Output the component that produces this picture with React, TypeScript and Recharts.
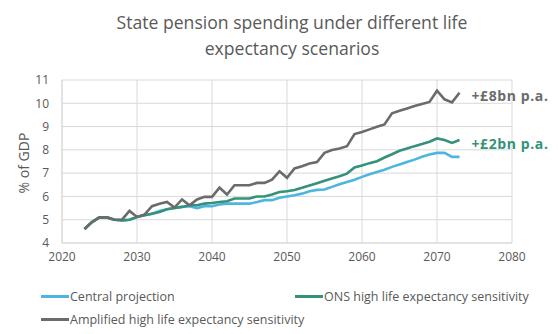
import React from 'react';
import { LineChart, Line, XAxis, YAxis, CartesianGrid } from 'recharts';

const years = [
  2023, 2024, 2025, 2026, 2027, 2028, 2029, 2030, 2031, 2032,
  2033, 2034, 2035, 2036, 2037, 2038, 2039, 2040, 2041, 2042,
  2043, 2044, 2045, 2046, 2047, 2048, 2049, 2050, 2051, 2052,
  2053, 2054, 2055, 2056, 2057, 2058, 2059, 2060, 2061, 2062,
  2063, 2064, 2065, 2066, 2067, 2068, 2069, 2070, 2071, 2072, 2073,
];

const central = [
  4.6, 4.9, 5.1, 5.1, 5.0, 4.97, 5.0, 5.12, 5.19, 5.26,
  5.37, 5.45, 5.5, 5.55, 5.58, 5.5, 5.58, 5.58, 5.65, 5.69,
  5.69, 5.69, 5.69, 5.76, 5.84, 5.84, 5.94, 6.0, 6.05, 6.12,
  6.22, 6.28, 6.3, 6.41, 6.52, 6.62, 6.72, 6.84, 6.95, 7.05,
  7.15, 7.27, 7.37, 7.48, 7.58, 7.7, 7.8, 7.87, 7.87, 7.7, 7.7,
];

const ons = [
  4.6, 4.9, 5.1, 5.1, 5.0, 4.97, 5.0, 5.12, 5.19, 5.26,
  5.33, 5.45, 5.5, 5.55, 5.62, 5.62, 5.69, 5.72, 5.76, 5.79,
  5.91, 5.91, 5.91, 6.0, 6.0, 6.08, 6.19, 6.22, 6.28, 6.37,
  6.47, 6.57, 6.67, 6.77, 6.87, 6.98, 7.24, 7.33, 7.43, 7.51,
  7.67, 7.81, 7.96, 8.06, 8.16, 8.25, 8.35, 8.49, 8.42, 8.3, 8.42,
];

const amplified = [
  4.6, 4.9, 5.1, 5.1, 5.0, 5.0, 5.38, 5.12, 5.22, 5.58,
  5.69, 5.76, 5.52, 5.87, 5.62, 5.87, 5.98, 5.98, 6.38, 6.08,
  6.48, 6.48, 6.48, 6.58, 6.58, 6.72, 7.08, 6.8, 7.2, 7.3,
  7.41, 7.48, 7.87, 7.99, 8.06, 8.16, 8.68, 8.77, 8.88, 8.99,
  9.09, 9.57, 9.68, 9.78, 9.88, 9.97, 10.06, 10.54, 10.17, 10.04, 10.45,
];

const xTicks = [2020, 2030, 2040, 2050, 2060, 2070, 2080];
const yTicks = [4, 5, 6, 7, 8, 9, 10, 11];

const titleLines = ['State pension spending under different life', 'expectancy scenarios'];
const yLabel = '% of GDP';

const seriesNames = [
  'Central projection',
  'ONS high life expectancy sensitivity',
  'Amplified high life expectancy sensitivity',
];
const seriesKeys = ['central', 'ons', 'amplified'];
const seriesColors = ['#4DB6E0', '#34917A', '#6B6B6B'];
const endNotes = ['', '+£2bn p.a.', '+£8bn p.a.'];

const data = years.map((y, i) => ({
  year: y,
  central: central[i],
  ons: ons[i],
  amplified: amplified[i],
}));

const FONT = '"Open Sans", "Noto Sans", sans-serif';
const TEXT = '#595959';

const makeEndLabel = (note: string, color: string) => (props: any) => {
  const { x, y, index } = props;
  if (!note || index !== data.length - 1) return null;
  return (
    <text
      x={x + 12}
      y={y + 3}
      fill={color}
      fontSize={14}
      fontWeight={700}
      fontFamily={FONT}
      letterSpacing={0.6}
      dominantBaseline="central"
    >
      {note}
    </text>
  );
};

const legendPos = [
  { left: 41, top: 296 },
  { left: 295, top: 296 },
  { left: 41, top: 319 },
];

export default function App() {
  return (
    <div
      style={{
        position: 'absolute',
        left: 0,
        top: 0,
        width: 558,
        height: 334,
        background: '#fff',
        fontFamily: FONT,
        overflow: 'hidden',
      }}
    >
      <LineChart
        width={558}
        height={334}
        data={data}
        margin={{ top: 80, right: 46, bottom: 0, left: 0 }}
      >
        <CartesianGrid stroke="#D9D9D9" strokeWidth={1} />
        <XAxis
          dataKey="year"
          type="number"
          domain={[2020, 2080]}
          ticks={xTicks}
          interval={0}
          height={91}
          tickLine={false}
          tickSize={0}
          tickMargin={9}
          axisLine={{ stroke: '#D9D9D9' }}
          tick={{ fill: TEXT, fontSize: 12, fontFamily: FONT }}
        />
        <YAxis
          domain={[4, 11]}
          ticks={yTicks}
          interval={0}
          width={62}
          tickLine={false}
          tickSize={0}
          tickMargin={13}
          axisLine={{ stroke: '#D9D9D9' }}
          tick={{ fill: TEXT, fontSize: 12, fontFamily: FONT }}
        />
        {seriesKeys.map((k, i) => (
          <Line
            key={k}
            dataKey={k}
            type="linear"
            stroke={seriesColors[i]}
            strokeWidth={2.6}
            dot={false}
            activeDot={false}
            isAnimationActive={false}
            label={makeEndLabel(endNotes[i], seriesColors[i])}
          />
        ))}
      </LineChart>

      {titleLines.map((t, i) => (
        <div
          key={i}
          style={{
            position: 'absolute',
            left: 0,
            width: 558,
            top: 9 + i * 26,
            textAlign: 'center',
            fontSize: 17.6,
            lineHeight: '26px',
            color: TEXT,
            paddingLeft: 26,
            boxSizing: 'border-box',
          }}
        >
          {t}
        </div>
      ))}

      <div
        style={{
          position: 'absolute',
          left: 23,
          top: 163,
          transform: 'translate(-50%, -50%) rotate(-90deg)',
          fontSize: 14,
          color: TEXT,
          whiteSpace: 'nowrap',
        }}
      >
        {yLabel}
      </div>

      {seriesNames.map((n, i) => (
        <div
          key={n}
          style={{
            position: 'absolute',
            left: legendPos[i].left,
            top: legendPos[i].top - 9,
            height: 18,
            display: 'flex',
            alignItems: 'center',
            fontSize: 12.5,
            color: TEXT,
            whiteSpace: 'nowrap',
          }}
        >
          <span
            style={{
              display: 'inline-block',
              width: 28,
              height: 3,
              background: seriesColors[i],
              marginRight: 1,
            }}
          />
          {n}
        </div>
      ))}
    </div>
  );
}
